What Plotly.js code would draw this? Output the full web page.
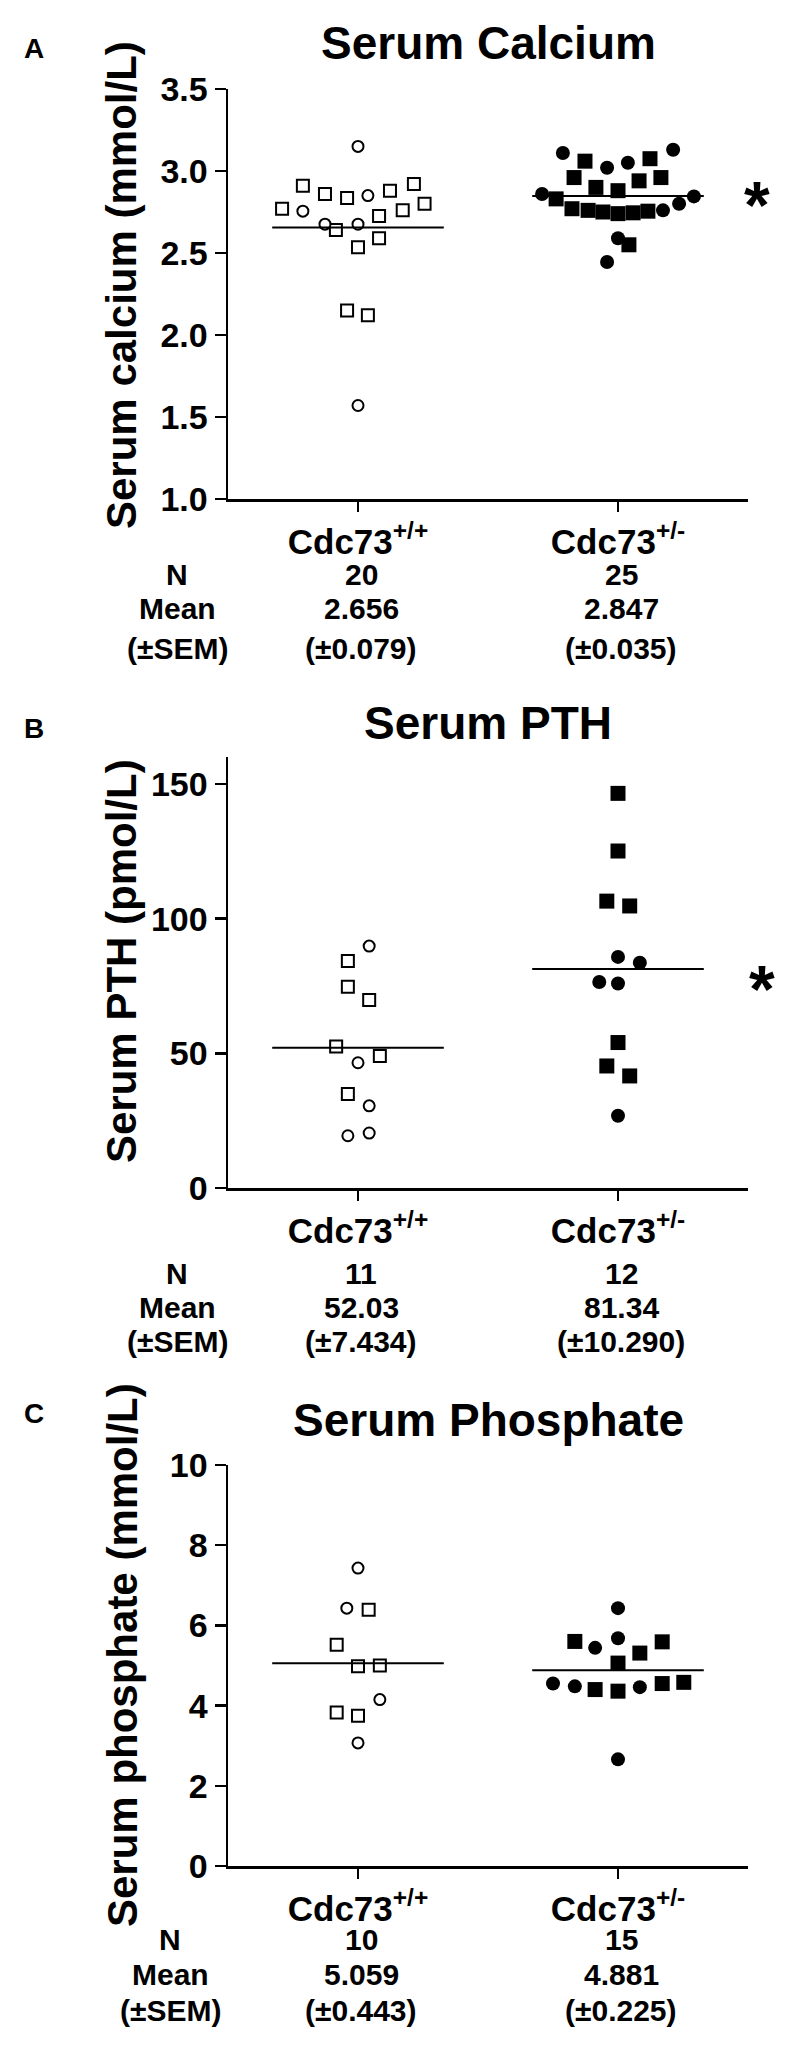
<!DOCTYPE html>
<html>
<head>
<meta charset="utf-8">
<script src="https://cdn.plot.ly/plotly-3.0.1.min.js"></script>
<style>
  html, body { margin: 0; padding: 0; background: #fff; }
  #chart { width: 800px; height: 2047px; }
</style>
</head>
<body>
<div id="chart"></div>
<script>
// ---------- DATA ----------
const categories = ["Cdc73<sup>+/+</sup>", "Cdc73<sup>+/-</sup>"];
const rowLabels = ["N", "Mean", "(±SEM)"];

// Panel A: Serum calcium (mmol/L); x offsets within each group column
const caWtCircDx = [0, 0.038, -0.212, -0.127, 0, 0];
const caWtCircY  = [3.15, 2.85, 2.755, 2.676, 2.676, 1.57];
const caWtSqDx   = [-0.212, -0.127, -0.042, 0.123, 0.215, -0.292, 0.256, 0.172, 0.081, -0.085, 0.081, 0, -0.042, 0.038];
const caWtSqY    = [2.91, 2.86, 2.835, 2.88, 2.92, 2.77, 2.80, 2.76, 2.725, 2.64, 2.59, 2.535, 2.15, 2.12];
const caHetCircDx = [-0.212, -0.042, 0.038, 0.212, -0.292, 0.292, 0.235, 0.173, 0, -0.042];
const caHetCircY  = [3.11, 3.02, 3.05, 3.13, 2.86, 2.845, 2.80, 2.76, 2.59, 2.445];
const caHetSqDx   = [-0.127, 0.123, -0.169, 0.165, 0.081, -0.085, 0, -0.238, -0.177, -0.115, -0.058, 0, 0.058, 0.115, 0.042];
const caHetSqY    = [3.06, 3.075, 2.96, 2.96, 2.94, 2.90, 2.88, 2.83, 2.77, 2.76, 2.75, 2.74, 2.745, 2.755, 2.55];
const caN    = ["20", "25"];
const caMean = [2.656, 2.847];
const caSem  = ["0.079", "0.035"];
const caTicks = [1.0, 1.5, 2.0, 2.5, 3.0, 3.5];

// Panel B: Serum PTH (pmol/L)
const pthWtCircDx = [0.043, 0, 0.043, -0.039, 0.043];
const pthWtCircY  = [89.8, 46.5, 30.5, 19.4, 20.4];
const pthWtSqDx   = [-0.039, -0.039, 0.043, -0.084, 0.084, -0.039];
const pthWtSqY    = [84.3, 74.7, 69.8, 52.5, 49.0, 34.9];
const pthHetCircDx = [0, 0.084, -0.072, 0, 0];
const pthHetCircY  = [85.8, 83.6, 76.5, 75.9, 26.8];
const pthHetSqDx   = [0, 0, -0.043, 0.045, 0, -0.043, 0.045];
const pthHetSqY    = [146.5, 125.1, 106.5, 104.7, 54.0, 45.3, 41.6];
const pthN    = ["11", "12"];
const pthMean = [52.03, 81.34];
const pthSem  = ["7.434", "10.290"];
const pthTicks = [0, 50, 100, 150];

// Panel C: Serum phosphate (mmol/L)
const phWtCircDx = [0, -0.043, 0.084, 0];
const phWtCircY  = [7.43, 6.43, 4.15, 3.07];
const phWtSqDx   = [0.041, -0.082, 0, 0.084, -0.082, 0];
const phWtSqY    = [6.39, 5.52, 4.98, 5.0, 3.83, 3.75];
const phHetCircDx = [0, -0.088, 0, -0.25, -0.166, 0.084, 0];
const phHetCircY  = [6.43, 5.44, 5.68, 4.55, 4.48, 4.46, 2.66];
const phHetSqDx   = [-0.166, 0.084, 0.17, 0, -0.088, 0, 0.17, 0.253];
const phHetSqY    = [5.60, 5.31, 5.59, 5.06, 4.40, 4.36, 4.55, 4.58];
const phN    = ["10", "15"];
const phMean = [5.059, 4.881];
const phSem  = ["0.443", "0.225"];
const phTicks = [0, 2, 4, 6, 8, 10];

// ---------- LAYOUT HELPERS ----------
const W = 800, H = 2047;
const FONT = "Liberation Sans, Arial, Helvetica, sans-serif";
const px2x = p => p / W;
const py2y = p => 1 - p / H;

const panels = [
  { key: "", letter: "A", title: "Serum Calcium", ytitle: "Serum calcium (mmol/L)",
    top: 89, bottom: 499, range: [1.0, 3.5], ticks: caTicks, tfmt: v => v.toFixed(1),
    wc: [caWtCircDx, caWtCircY], ws: [caWtSqDx, caWtSqY], hc: [caHetCircDx, caHetCircY], hs: [caHetSqDx, caHetSqY],
    n: caN, mean: caMean, meanTxt: ["2.656", "2.847"], sem: caSem,
    letterY: 48, titleY: 43, rows: [574, 609, 648], rowX: 177, star: [757, 193], ytitleY: 285 },
  { key: "2", letter: "B", title: "Serum PTH", ytitle: "Serum PTH (pmol/L)",
    top: 757, bottom: 1188, range: [0, 160], ticks: pthTicks, tfmt: v => String(v),
    wc: [pthWtCircDx, pthWtCircY], ws: [pthWtSqDx, pthWtSqY], hc: [pthHetCircDx, pthHetCircY], hs: [pthHetSqDx, pthHetSqY],
    n: pthN, mean: pthMean, meanTxt: ["52.03", "81.34"], sem: pthSem,
    letterY: 728, titleY: 723, rows: [1273, 1307, 1341], rowX: 177, star: [762, 977], ytitleY: 961 },
  { key: "3", letter: "C", title: "Serum Phosphate", ytitle: "Serum phosphate (mmol/L)",
    top: 1465, bottom: 1866, range: [0, 10], ticks: phTicks, tfmt: v => String(v),
    wc: [phWtCircDx, phWtCircY], ws: [phWtSqDx, phWtSqY], hc: [phHetCircDx, phHetCircY], hs: [phHetSqDx, phHetSqY],
    n: phN, mean: phMean, meanTxt: ["5.059", "4.881"], sem: phSem,
    letterY: 1413, titleY: 1420, rows: [1939, 1974, 2010], rowX: 170, star: null, ytitleY: 1655 }
];

const traces = [];
const annotations = [];
const layout = {
  width: W, height: H,
  margin: { l: 0, r: 0, t: 0, b: 0 },
  paper_bgcolor: "#fff", plot_bgcolor: "rgba(0,0,0,0)",
  showlegend: false,
  font: { family: FONT, color: "#000" },
  annotations: annotations
};

const openStyle = sym => ({ symbol: sym, size: sym === "square" ? 12 : 11, color: "#fff", line: { color: "#000", width: 2 } });
const fillStyle = sym => ({ symbol: sym, size: sym === "square" ? 15 : 14, color: "#000", line: { width: 0 } });

panels.forEach(p => {
  const xa = "x" + p.key, ya = "y" + p.key;
  const addPts = (dx, ys, g, marker) => traces.push({
    type: "scatter", mode: "markers", xaxis: xa, yaxis: ya,
    x: dx.map(d => g + d), y: ys, marker: marker, hoverinfo: "y", cliponaxis: false
  });
  addPts(p.ws[0], p.ws[1], 0, openStyle("square"));
  addPts(p.wc[0], p.wc[1], 0, openStyle("circle"));
  addPts(p.hs[0], p.hs[1], 1, fillStyle("square"));
  addPts(p.hc[0], p.hc[1], 1, fillStyle("circle"));
  // mean lines
  p.mean.forEach((m, g) => traces.push({
    type: "scatter", mode: "lines", xaxis: xa, yaxis: ya,
    x: [g - 0.33, g + 0.33], y: [m, m], line: { color: "#000", width: 2 }, hoverinfo: "skip"
  }));

  layout["xaxis" + p.key] = {
    domain: [px2x(228), px2x(748)], anchor: ya, range: [-0.5, 1.5],
    showline: true, linecolor: "#000", linewidth: 2.5, mirror: false,
    showgrid: false, zeroline: false,
    ticks: "outside", ticklen: 10, tickwidth: 2.5, tickcolor: "#000",
    tickvals: [0, 1], ticktext: categories,
    tickfont: { family: FONT, size: 35, color: "#000", weight: "bold" },
    fixedrange: true
  };
  layout["yaxis" + p.key] = {
    domain: [py2y(p.bottom), py2y(p.top)], anchor: xa, range: p.range,
    showline: true, linecolor: "#000", linewidth: 2.5,
    showgrid: false, zeroline: false,
    ticks: "outside", ticklen: 11, tickwidth: 2.5, tickcolor: "#000",
    tickvals: p.ticks, ticktext: p.ticks.map(p.tfmt),
    tickfont: { family: FONT, size: 34, color: "#000", weight: "bold" },
    fixedrange: true
  };

  const ann = (text, x, y, size, extra) => annotations.push(Object.assign({
    text: text, x: x, y: y, xref: "paper", yref: "paper",
    xanchor: "center", yanchor: "middle", showarrow: false,
    font: { family: FONT, size: size, color: "#000", weight: "bold" }
  }, extra || {}));

  ann(p.letter, px2x(34), py2y(p.letterY), 28);
  ann(p.title, px2x(488), py2y(p.titleY), 46);
  ann(p.ytitle, px2x(122), py2y(p.ytitleY), 42, { textangle: -90 });
  if (p.star) ann("*", px2x(p.star[0]), py2y(p.star[1] + 12), 66);

  // summary table rows
  rowLabels.forEach((lab, r) => ann(lab, px2x(p.rowX), py2y(p.rows[r]), 30));
  [0, 1].forEach(g => {
    const vals = [p.n[g], p.meanTxt[g], "(±" + p.sem[g] + ")"];
    vals.forEach((v, r) => annotations.push({
      text: v, x: g, y: py2y(p.rows[r]), xref: xa, yref: "paper",
      xanchor: "center", yanchor: "middle", showarrow: false, xshift: 3,
      font: { family: FONT, size: 30, color: "#000", weight: "bold" }
    }));
  });
});

Plotly.newPlot("chart", traces, layout, { staticPlot: true, displayModeBar: false });
</script>
</body>
</html>
